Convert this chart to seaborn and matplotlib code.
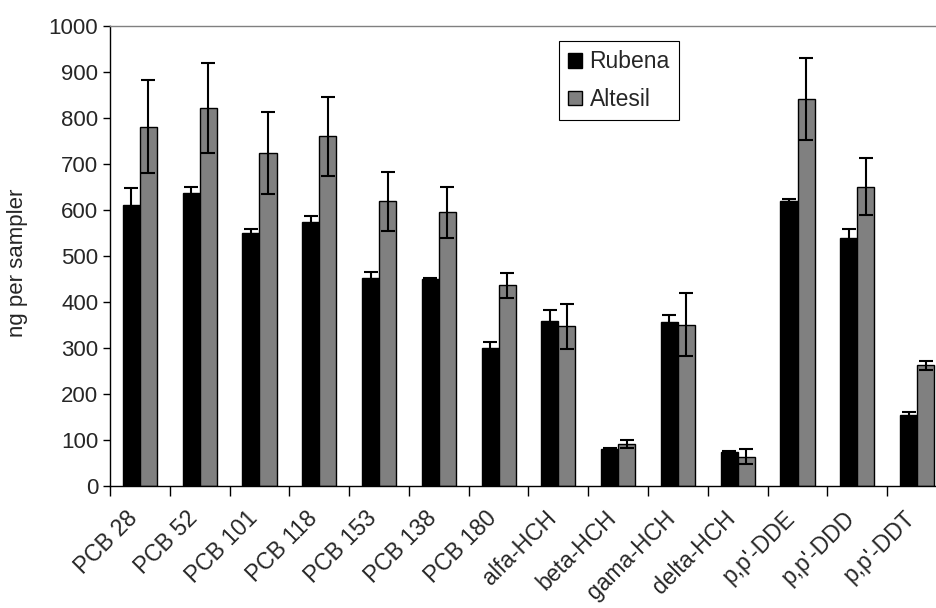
import numpy as np
import pandas as pd
import seaborn as sns
import matplotlib.pyplot as plt
from matplotlib.transforms import ScaledTranslation

compounds = ['PCB 28', 'PCB 52', 'PCB 101', 'PCB 118', 'PCB 153', 'PCB 138', 'PCB 180',
             'alfa-HCH', 'beta-HCH', 'gama-HCH', 'delta-HCH', "p,p'-DDE", "p,p'-DDD", "p,p'-DDT"]
rubena = [611, 636, 550, 575, 453, 449, 299, 359, 81, 356, 75, 620, 539, 154]
rubena_err = [36, 15, 8, 11, 12, 4, 15, 24, 1, 16, 2, 3, 19, 7]
altesil = [781, 822, 724, 760, 619, 595, 436, 347, 92, 351, 64, 842, 651, 262]
altesil_err = [101, 97, 89, 86, 64, 56, 28, 49, 9, 69, 16, 89, 61, 9]
samplers = ['Rubena', 'Altesil']

sns.set_style('white')
plt.rcParams['font.family'] = ['Liberation Sans', 'DejaVu Sans']

df = pd.DataFrame({
    'compound': compounds * 2,
    'value': rubena + altesil,
    'sampler': ['Rubena'] * len(compounds) + ['Altesil'] * len(compounds),
})

fig = plt.figure(figsize=(9.37, 6.08), dpi=100)
ax = fig.add_axes([110 / 937, 122 / 608, 837 / 937, 460 / 608])

sns.barplot(data=df, x='compound', y='value', hue='sampler', hue_order=samplers,
            palette=['black', '#808080'], edgecolor='black', linewidth=1.0,
            width=0.57, gap=0, errorbar=None, ax=ax)

# error bars, centred on the bars seaborn just drew
for cont, err in zip(ax.containers, [rubena_err, altesil_err]):
    xs = [b.get_x() + b.get_width() / 2 for b in cont]
    ys = [b.get_height() for b in cont]
    ax.errorbar(xs, ys, yerr=err, fmt='none', ecolor='black', elinewidth=1.5,
                capsize=5, capthick=1.5, zorder=5)

ax.set_ylim(0, 1000)
ax.set_xlim(-0.5, len(compounds) - 0.5)
ax.set_yticks(np.arange(0, 1001, 100))
ax.set_ylabel('ng per sampler', fontsize=16)
ax.yaxis.set_label_coords(-0.098, 0.485)
ax.set_xlabel('')

ax.set_xticks(np.arange(len(compounds)))
ax.set_xticklabels(compounds, rotation=45, ha='right', rotation_mode='anchor', fontsize=16.5)
ax.tick_params(axis='x', length=0, pad=15)
shift = ScaledTranslation(-10 / 72, 0, fig.dpi_scale_trans)
for lab in ax.get_xticklabels():
    lab.set_transform(lab.get_transform() + shift)
ax.set_xticks(np.arange(len(compounds) + 1) - 0.5, minor=True)
ax.tick_params(axis='x', which='minor', length=7, width=1, color='black', direction='out', bottom=True)
ax.tick_params(axis='y', labelsize=16, length=5, width=1, color='black', direction='out', left=True)

for side in ['left', 'bottom']:
    ax.spines[side].set_color('black')
    ax.spines[side].set_linewidth(1)
for side in ['top', 'right']:
    ax.spines[side].set_color('#808080')
    ax.spines[side].set_linewidth(1)

handles, labels = ax.get_legend_handles_labels()
ax.legend(handles, labels, loc='upper left', bbox_to_anchor=(0.536, 0.967),
          borderaxespad=0, fontsize=16.5, frameon=True, fancybox=False, edgecolor='black',
          handlelength=0.6, handleheight=0.6, handletextpad=0.35, labelspacing=0.65,
          borderpad=0.4, framealpha=1)
ax.get_legend().get_frame().set_linewidth(0.8)

plt.savefig('out.png', dpi=100)
plt.close()
